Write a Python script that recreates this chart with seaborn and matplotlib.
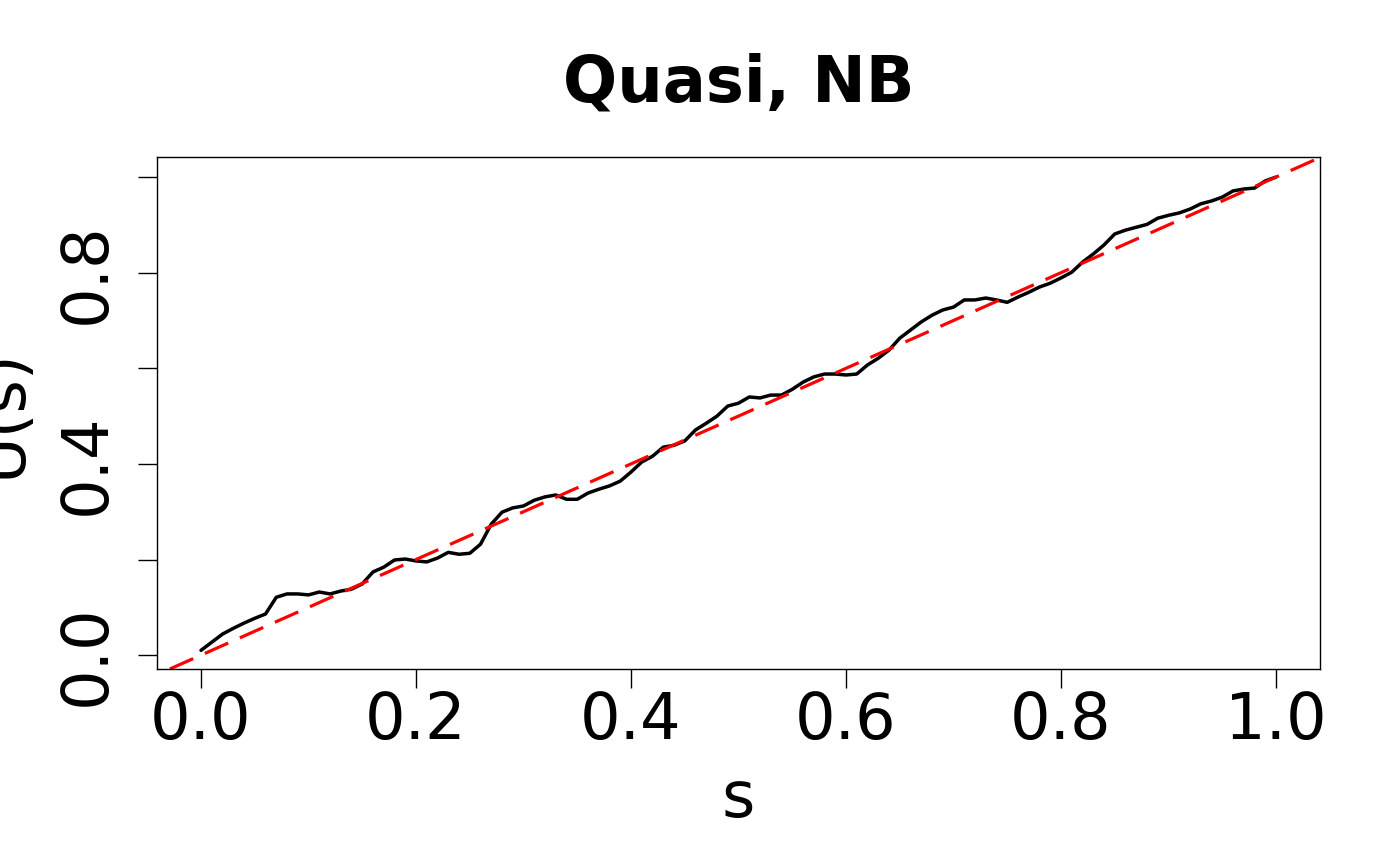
import numpy as np
import pandas as pd
import matplotlib
matplotlib.use('Agg')
import matplotlib.pyplot as plt
import seaborn as sns

# data
s_vals = [i / 100 for i in range(101)]
u_vals = [0.010, 0.027, 0.044, 0.056, 0.067, 0.077, 0.086, 0.121, 0.128, 0.128,
          0.126, 0.132, 0.128, 0.134, 0.138, 0.149, 0.174, 0.184, 0.199, 0.201,
          0.197, 0.195, 0.203, 0.215, 0.211, 0.213, 0.232, 0.274, 0.299, 0.308,
          0.312, 0.324, 0.331, 0.335, 0.326, 0.326, 0.339, 0.347, 0.354, 0.364,
          0.383, 0.404, 0.416, 0.435, 0.439, 0.448, 0.471, 0.485, 0.500, 0.521,
          0.527, 0.540, 0.538, 0.544, 0.544, 0.556, 0.571, 0.582, 0.588, 0.588,
          0.586, 0.588, 0.607, 0.621, 0.638, 0.663, 0.680, 0.697, 0.711, 0.722,
          0.728, 0.743, 0.743, 0.747, 0.743, 0.738, 0.749, 0.759, 0.770, 0.778,
          0.789, 0.801, 0.822, 0.839, 0.858, 0.881, 0.889, 0.895, 0.901, 0.914,
          0.920, 0.925, 0.933, 0.944, 0.950, 0.958, 0.971, 0.975, 0.977, 0.992,
          1.000]
x_ticks = [0.0, 0.2, 0.4, 0.6, 0.8, 1.0]
x_labels = ['0.0', '0.2', '0.4', '0.6', '0.8', '1.0']
y_ticks = [0.0, 0.2, 0.4, 0.6, 0.8, 1.0]
y_labels = ['0.0', '', '0.4', '', '0.8', '']

df = pd.DataFrame({'s': s_vals, 'U': u_vals})

sns.set_style('white')
plt.rcParams['font.family'] = ['DejaVu Sans']
plt.rcParams['text.color'] = 'black'
plt.rcParams['axes.labelcolor'] = 'black'
plt.rcParams['xtick.color'] = 'black'
plt.rcParams['ytick.color'] = 'black'

fig = plt.figure(figsize=(14, 8.66), dpi=100)
ax = fig.add_axes([0.1121, 0.2275, 0.8308, 0.5912])

sns.lineplot(data=df, x='s', y='U', color='black', linewidth=2.5, ax=ax)
ax.axline((0, 0), slope=1, color='red', linewidth=2.3, linestyle=(0, (8, 4)))

ax.set_xlim(-0.041, 1.041)
ax.set_ylim(-0.029, 1.042)
ax.set_xticks(x_ticks)
ax.set_xticklabels(x_labels)
ax.set_yticks(y_ticks)
ax.set_yticklabels(y_labels, rotation=90, va='center')
ax.tick_params(axis='both', direction='out', length=14, width=1, labelsize=46,
               bottom=True, left=True, colors='black')
ax.tick_params(axis='x', pad=1)
ax.tick_params(axis='y', pad=14)

for sp in ax.spines.values():
    sp.set_color('black')
    sp.set_linewidth(1)

ax.set_xlabel('s', fontsize=46, labelpad=12)
ax.set_ylabel('U(s)', fontsize=46, labelpad=16)
ax.set_title('Quasi, NB', fontsize=46, fontweight='bold', pad=40, color='black')

fig.savefig('out.png', dpi=100)
